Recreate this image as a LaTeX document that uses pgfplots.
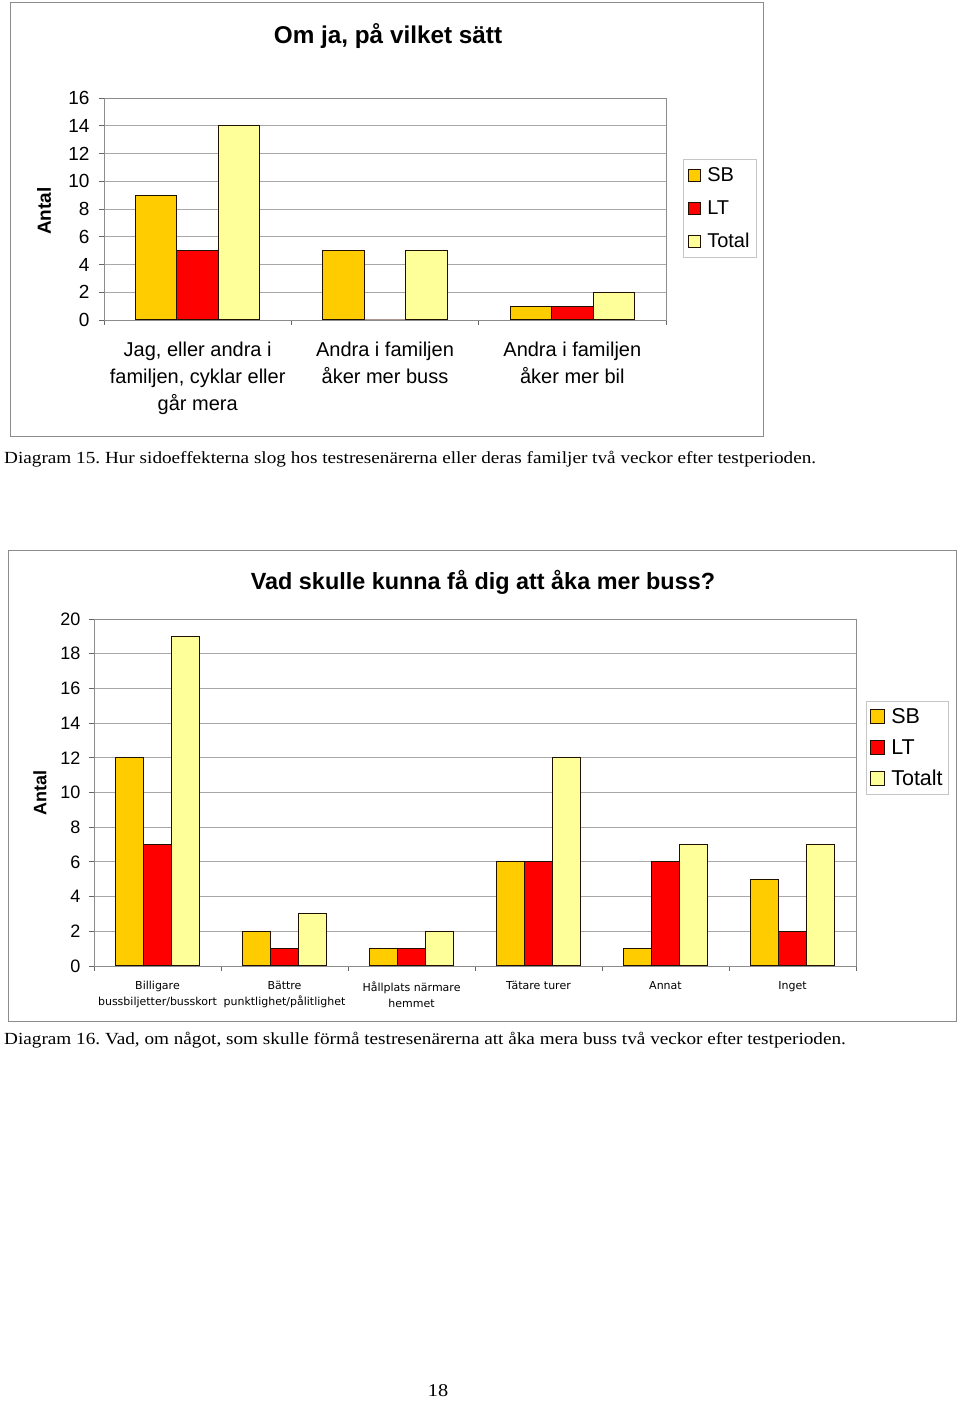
\documentclass[border=0pt]{standalone}
\usepackage{fontspec}
\setmainfont{Liberation Sans}
\newfontfamily\timesf[FakeStretch=1.13]{Liberation Serif}
\newfontfamily\dejavu{DejaVu Sans}
\usepackage{pgfplots}
\pgfplotsset{compat=1.18}
\definecolor{sbc}{HTML}{FFCC00}
\definecolor{ltc}{HTML}{FF0000}
\definecolor{totc}{HTML}{FFFF99}
\definecolor{gridc}{HTML}{A8A8A8}
\definecolor{framec}{HTML}{8C8C8C}
\definecolor{barline}{HTML}{201000}
\frenchspacing

\pgfplotsset{
  mybars/.style={
    scale only axis,
    ybar=0pt,
    ymin=0,
    axis line style={draw=framec},
    ymajorgrids,
    grid style={draw=gridc, line width=0.8bp},
    tick align=outside,
    tick pos=left,
    major tick length=5bp,
    tick style={draw=gray!80!black, line width=0.9bp},
    /pgf/number format/assume math mode=true,
    xticklabels={},
    extra x tick style={tick style={draw=none}},
    legend cell align=left,
    every axis plot/.append style={draw=barline, line width=1bp},
  },
}

\begin{document}
\begin{tikzpicture}[x=1bp,y=1bp]
\useasboundingbox (0bp,0bp) rectangle (960bp,1401bp);
\fill[white] (0bp,0bp) rectangle (960bp,1401bp);

% ---------- Chart 1 ----------
\draw[framec, line width=1bp] (10bp,964bp) rectangle (763bp,1398bp);
\node[font=\fontsize{24.3bp}{28bp}\selectfont\bfseries] at (388bp,1365bp) {Om ja, på vilket sätt};
\node[rotate=90, font=\fontsize{19bp}{22bp}\selectfont\bfseries] at (44bp,1190bp) {Antal};

\begin{axis}[mybars,
  at={(104bp,1081bp)}, anchor=south west,
  width=562bp, height=222bp,
  xmin=0.5, xmax=3.5, ymax=16,
  bar width=41.5bp,
  xtick={0.5,1.5,2.5,3.5},
  ytick={0,2,...,16},
  yticklabel style={font=\fontsize{19bp}{21bp}\selectfont, xshift=-6bp},
  extra x ticks={1,2,3},
  extra x tick labels={{Jag, eller andra i\\familjen, cyklar eller\\går mera},{Andra i familjen\\åker mer buss},{Andra i familjen\\åker mer bil}},
  xticklabel style={align=center, font=\fontsize{20bp}{27bp}\selectfont, anchor=north, yshift=-13bp},
  legend image code/.code={\draw[#1, line width=0.9bp] (0bp,-6bp) rectangle (12bp,6bp);},
  legend style={at={(1.0302,0.725)}, anchor=north west, draw=gray!45, line width=0.8bp,
    font=\fontsize{20bp}{22bp}\selectfont, row sep=13.5bp, column sep=4bp, inner xsep=5bp, inner ysep=6bp},
]
\addplot[fill=sbc] coordinates {(1,9) (2,5) (3,1)};
\addplot[fill=ltc] coordinates {(1,5) (2,0) (3,1)};
\addplot[fill=totc] coordinates {(1,14) (2,5) (3,2)};
\legend{SB,LT,Total}
\end{axis}

\node[anchor=base west, inner sep=0pt, font=\timesf\fontsize{17bp}{20bp}\selectfont] at (4bp,937bp)
  {Diagram 15. Hur sidoeffekterna slog hos testresenärerna eller deras familjer två veckor efter testperioden.};

% ---------- Chart 2 ----------
\draw[framec, line width=1bp] (8bp,379bp) rectangle (956bp,850bp);
\node[font=\fontsize{23.4bp}{28bp}\selectfont\bfseries] at (483bp,819bp) {Vad skulle kunna få dig att åka mer buss?};
\node[rotate=90, font=\fontsize{18bp}{22bp}\selectfont\bfseries] at (40bp,608bp) {Antal};

\begin{axis}[mybars,
  at={(94bp,435bp)}, anchor=south west,
  width=762bp, height=347bp,
  xmin=0.5, xmax=6.5, ymax=20,
  bar width=28bp,
  xtick={0.5,1.5,...,6.5},
  ytick={0,2,...,20},
  yticklabel style={font=\fontsize{18bp}{20bp}\selectfont, xshift=-5bp},
  extra x ticks={1,2,3,4,5,6},
  extra x tick labels={{Billigare\\bussbiljetter/busskort},{Bättre\\punktlighet/pålitlighet},{Hållplats närmare\\hemmet},{Tätare turer},{Annat},{Inget}},
  xticklabel style={align=center, font=\dejavu\fontsize{11bp}{16bp}\selectfont, anchor=north, yshift=-7bp},
  legend image code/.code={\draw[#1, line width=0.9bp] (0bp,-7bp) rectangle (14bp,7bp);},
  legend style={at={(1.0131,0.7637)}, anchor=north west, draw=gray!45, line width=0.8bp,
    font=\fontsize{21.5bp}{24bp}\selectfont, row sep=10.5bp, column sep=4bp, inner xsep=4bp, inner ysep=5bp},
]
\addplot[fill=sbc] coordinates {(1,12) (2,2) (3,1) (4,6) (5,1) (6,5)};
\addplot[fill=ltc] coordinates {(1,7) (2,1) (3,1) (4,6) (5,6) (6,2)};
\addplot[fill=totc] coordinates {(1,19) (2,3) (3,2) (4,12) (5,7) (6,7)};
\legend{SB,LT,Totalt}
\end{axis}

\node[anchor=base west, inner sep=0pt, font=\timesf\fontsize{17bp}{20bp}\selectfont] at (4bp,356bp)
  {Diagram 16. Vad, om något, som skulle förmå testresenärerna att åka mera buss två veckor efter testperioden.};

\node[anchor=base, inner sep=0pt, font=\timesf\fontsize{18bp}{20bp}\selectfont] at (438bp,5bp) {18};
\end{tikzpicture}
\end{document}
